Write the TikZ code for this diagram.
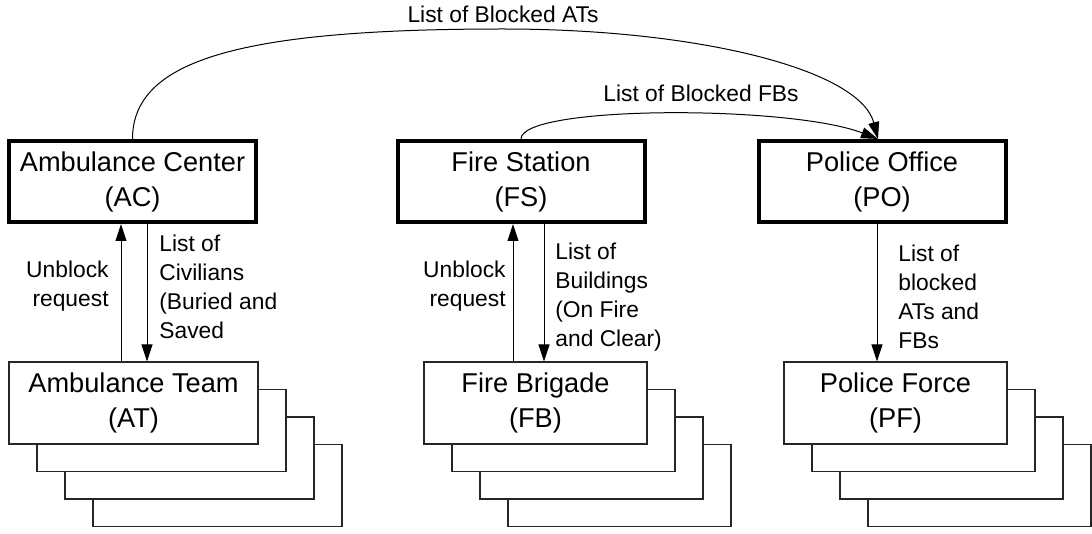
\documentclass[tikz,border=0pt]{standalone}
\usepackage{fontspec}
\setmainfont{Liberation Sans}
\usetikzlibrary{arrows.meta}
\begin{document}
\begin{tikzpicture}[x=0.5pt,y=-0.5pt,
  centerbox/.style={draw=black, line width=2pt, fill=white, minimum width=123.5pt,
    minimum height=40.5pt, inner sep=0pt, align=center,
    font=\fontsize{13.6}{17.5}\selectfont},
  agentbox/.style={draw=black!85, line width=0.6pt, fill=white, minimum height=41pt,
    inner sep=0pt, align=center, font=\fontsize{13.6}{17.5}\selectfont},
  msg/.style={inner sep=0pt, font=\fontsize{11.4}{14.5}\selectfont},
  flow/.style={draw=black, line width=0.5pt, -{Triangle[length=8.5pt,width=5.5pt]}},
]
\useasboundingbox[fill=white] (0,0) rectangle (1092,534);

% centres
\node[centerbox] (AC) at (132.5,181.5) {Ambulance Center\\(AC)};
\node[centerbox] (FS) at (521,181.5) {Fire Station\\(FS)};
\node[centerbox] (PO) at (882,181.5) {Police Office\\(PO)};

% ambulance team stack
\node[agentbox, minimum width=124.5pt] (AT3) at (217.5,485.5) {};
\node[agentbox, minimum width=124.5pt] (AT2) at (189.5,458) {};
\node[agentbox, minimum width=124.5pt] (AT1) at (161.5,430.5) {};
\node[agentbox, minimum width=124.5pt] (AT)  at (133.5,403) {Ambulance Team\\(AT)};

% fire brigade stack
\node[agentbox, minimum width=111.5pt] (FB3) at (619.5,485.5) {};
\node[agentbox, minimum width=111.5pt] (FB2) at (591.5,458) {};
\node[agentbox, minimum width=111.5pt] (FB1) at (563.5,430.5) {};
\node[agentbox, minimum width=111.5pt] (FB)  at (535.5,403) {Fire Brigade\\(FB)};

% police force stack
\node[agentbox, minimum width=111.5pt] (PF3) at (979.5,485.5) {};
\node[agentbox, minimum width=111.5pt] (PF2) at (951.5,458) {};
\node[agentbox, minimum width=111.5pt] (PF1) at (923.5,430.5) {};
\node[agentbox, minimum width=111.5pt] (PF)  at (895.5,403) {Police Force\\(PF)};

% vertical messages
\draw[flow] ([xshift=-5.75pt]AC.south |- AT.north) -- ([xshift=-5.75pt]AC.south);
\draw[flow] ([xshift=7.25pt]AC.south) -- ([xshift=7.25pt]AC.south |- AT.north);
\draw[flow] ([xshift=-4pt]FS.south |- FB.north) -- ([xshift=-4pt]FS.south);
\draw[flow] ([xshift=11.5pt]FS.south) -- ([xshift=11.5pt]FS.south |- FB.north);
\draw[flow] ([xshift=-2.5pt]PO.south) -- ([xshift=-2.5pt]PO.south |- PF.north);

\node[msg, anchor=east, align=right] (ACup) at (109,286) {Unblock\\request};
\node[msg, anchor=west, align=left] (ACdown) at (159,287) {List of\\Civilians\\(Buried and\\Saved};
\node[msg, anchor=east, align=right] (FSup) at (506,286) {Unblock\\request};
\node[msg, anchor=west, align=left] (FSdown) at (555,297) {List of\\Buildings\\(On Fire\\and Clear)};
\node[msg, anchor=west, align=left] (POdown) at (898,297) {List of\\blocked\\ATs and\\FBs};

% curved reports to the police office
\draw[flow] (AC.north) .. controls (132.5,60) and (240,29) .. (503,29)
  .. controls (700,29) and (860,70) .. ([xshift=-2pt]PO.north);
\draw[flow] (FS.north) .. controls (521,105) and (790,105) .. ([xshift=-2pt]PO.north);

\node[msg] (ATsLabel) at (503,14) {List of Blocked ATs};
\node[msg] (FBsLabel) at (701,93) {List of Blocked FBs};
\end{tikzpicture}
\end{document}
